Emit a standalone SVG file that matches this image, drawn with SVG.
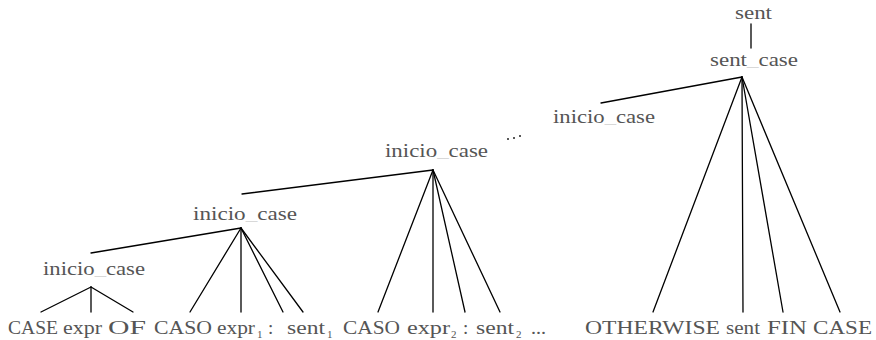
<svg xmlns="http://www.w3.org/2000/svg" width="876" height="340" viewBox="0 0 876 340">
  <style>
    text { font-family: 'Liberation Serif', 'Times New Roman', serif; font-size: 19px; fill: #555; }
    .sub { font-size: 11px; }
    .us { fill: #d8d8d8; }
    .edge { stroke: #000; stroke-width: 1.3; fill: none; stroke-linecap: round; }
    .dot { fill: #222; }
  </style>
  <rect width="876" height="340" fill="#fff"/>

  <!-- tree edges -->
  <g id="connectors">
    <line class="edge" x1="751" y1="24" x2="751" y2="48"/>
    <line class="edge" x1="742" y1="77" x2="601" y2="103"/>
    <line class="edge" x1="742" y1="77" x2="653" y2="312"/>
    <line class="edge" x1="742" y1="77" x2="743" y2="312"/>
    <line class="edge" x1="742" y1="77" x2="783" y2="312"/>
    <line class="edge" x1="742" y1="77" x2="840" y2="312"/>

    <line class="edge" x1="433" y1="170" x2="242" y2="194"/>
    <line class="edge" x1="433" y1="170" x2="378" y2="312"/>
    <line class="edge" x1="433" y1="170" x2="433" y2="312"/>
    <line class="edge" x1="433" y1="170" x2="465" y2="312"/>
    <line class="edge" x1="433" y1="170" x2="500" y2="312"/>

    <line class="edge" x1="241" y1="228" x2="91" y2="253"/>
    <line class="edge" x1="241" y1="228" x2="190" y2="312"/>
    <line class="edge" x1="241" y1="228" x2="241" y2="312"/>
    <line class="edge" x1="241" y1="228" x2="283" y2="312"/>
    <line class="edge" x1="241" y1="228" x2="303" y2="312"/>

    <line class="edge" x1="91" y1="287" x2="41" y2="312"/>
    <line class="edge" x1="91" y1="287" x2="91" y2="312"/>
    <line class="edge" x1="91" y1="287" x2="133" y2="312"/>
  </g>

  <!-- interior nodes -->
  <g id="sent"><text x="735" y="19" textLength="37" lengthAdjust="spacingAndGlyphs">sent</text></g>
  <g id="sent_case"><text x="710" y="66" textLength="88" lengthAdjust="spacingAndGlyphs">sent<tspan class="us">_</tspan>case</text></g>
  <g id="inicio_case_4"><text x="553" y="123" textLength="102" lengthAdjust="spacingAndGlyphs">inicio<tspan class="us">_</tspan>case</text></g>
  <g id="inicio_case_3"><text x="385" y="157" textLength="103" lengthAdjust="spacingAndGlyphs">inicio<tspan class="us">_</tspan>case</text></g>
  <g id="ellipsis_mid">
    <circle class="dot" cx="508" cy="139" r="1"/>
    <circle class="dot" cx="514" cy="138" r="1"/>
    <circle class="dot" cx="520" cy="136" r="1"/>
  </g>
  <g id="inicio_case_2"><text x="193" y="220" textLength="104" lengthAdjust="spacingAndGlyphs">inicio<tspan class="us">_</tspan>case</text></g>
  <g id="inicio_case_1"><text x="43" y="275" textLength="102" lengthAdjust="spacingAndGlyphs">inicio<tspan class="us">_</tspan>case</text></g>

  <!-- leaves -->
  <g id="leaf_case"><text x="8" y="334" textLength="50" lengthAdjust="spacingAndGlyphs">CASE</text></g>
  <g id="leaf_expr"><text x="63" y="334" textLength="39" lengthAdjust="spacingAndGlyphs">expr</text></g>
  <g id="leaf_of"><text x="108" y="334" textLength="38" lengthAdjust="spacingAndGlyphs">OF</text></g>
  <g id="leaf_caso1"><text x="154" y="334" textLength="58" lengthAdjust="spacingAndGlyphs">CASO</text></g>
  <g id="leaf_expr1"><text x="217" y="334" textLength="38" lengthAdjust="spacingAndGlyphs">expr</text><text class="sub" x="257" y="338">1</text></g>
  <g id="leaf_colon1"><text x="268" y="334">:</text></g>
  <g id="leaf_sent1"><text x="287" y="334" textLength="38" lengthAdjust="spacingAndGlyphs">sent</text><text class="sub" x="327" y="338">1</text></g>
  <g id="leaf_caso2"><text x="343" y="334" textLength="57" lengthAdjust="spacingAndGlyphs">CASO</text></g>
  <g id="leaf_expr2"><text x="407" y="334" textLength="43" lengthAdjust="spacingAndGlyphs">expr</text><text class="sub" x="451" y="338">2</text></g>
  <g id="leaf_colon2"><text x="463" y="334">:</text></g>
  <g id="leaf_sent2"><text x="476" y="334" textLength="38" lengthAdjust="spacingAndGlyphs">sent</text><text class="sub" x="516" y="338">2</text></g>
  <g id="leaf_more"><text x="531" y="334" textLength="15" lengthAdjust="spacingAndGlyphs">...</text></g>
  <g id="leaf_otherwise"><text x="585" y="334" textLength="135" lengthAdjust="spacingAndGlyphs">OTHERWISE</text></g>
  <g id="leaf_sent"><text x="726" y="334" textLength="34" lengthAdjust="spacingAndGlyphs">sent</text></g>
  <g id="leaf_fin"><text x="767" y="334" textLength="40" lengthAdjust="spacingAndGlyphs">FIN</text></g>
  <g id="leaf_case_end"><text x="813" y="334" textLength="59" lengthAdjust="spacingAndGlyphs">CASE</text></g>
</svg>
